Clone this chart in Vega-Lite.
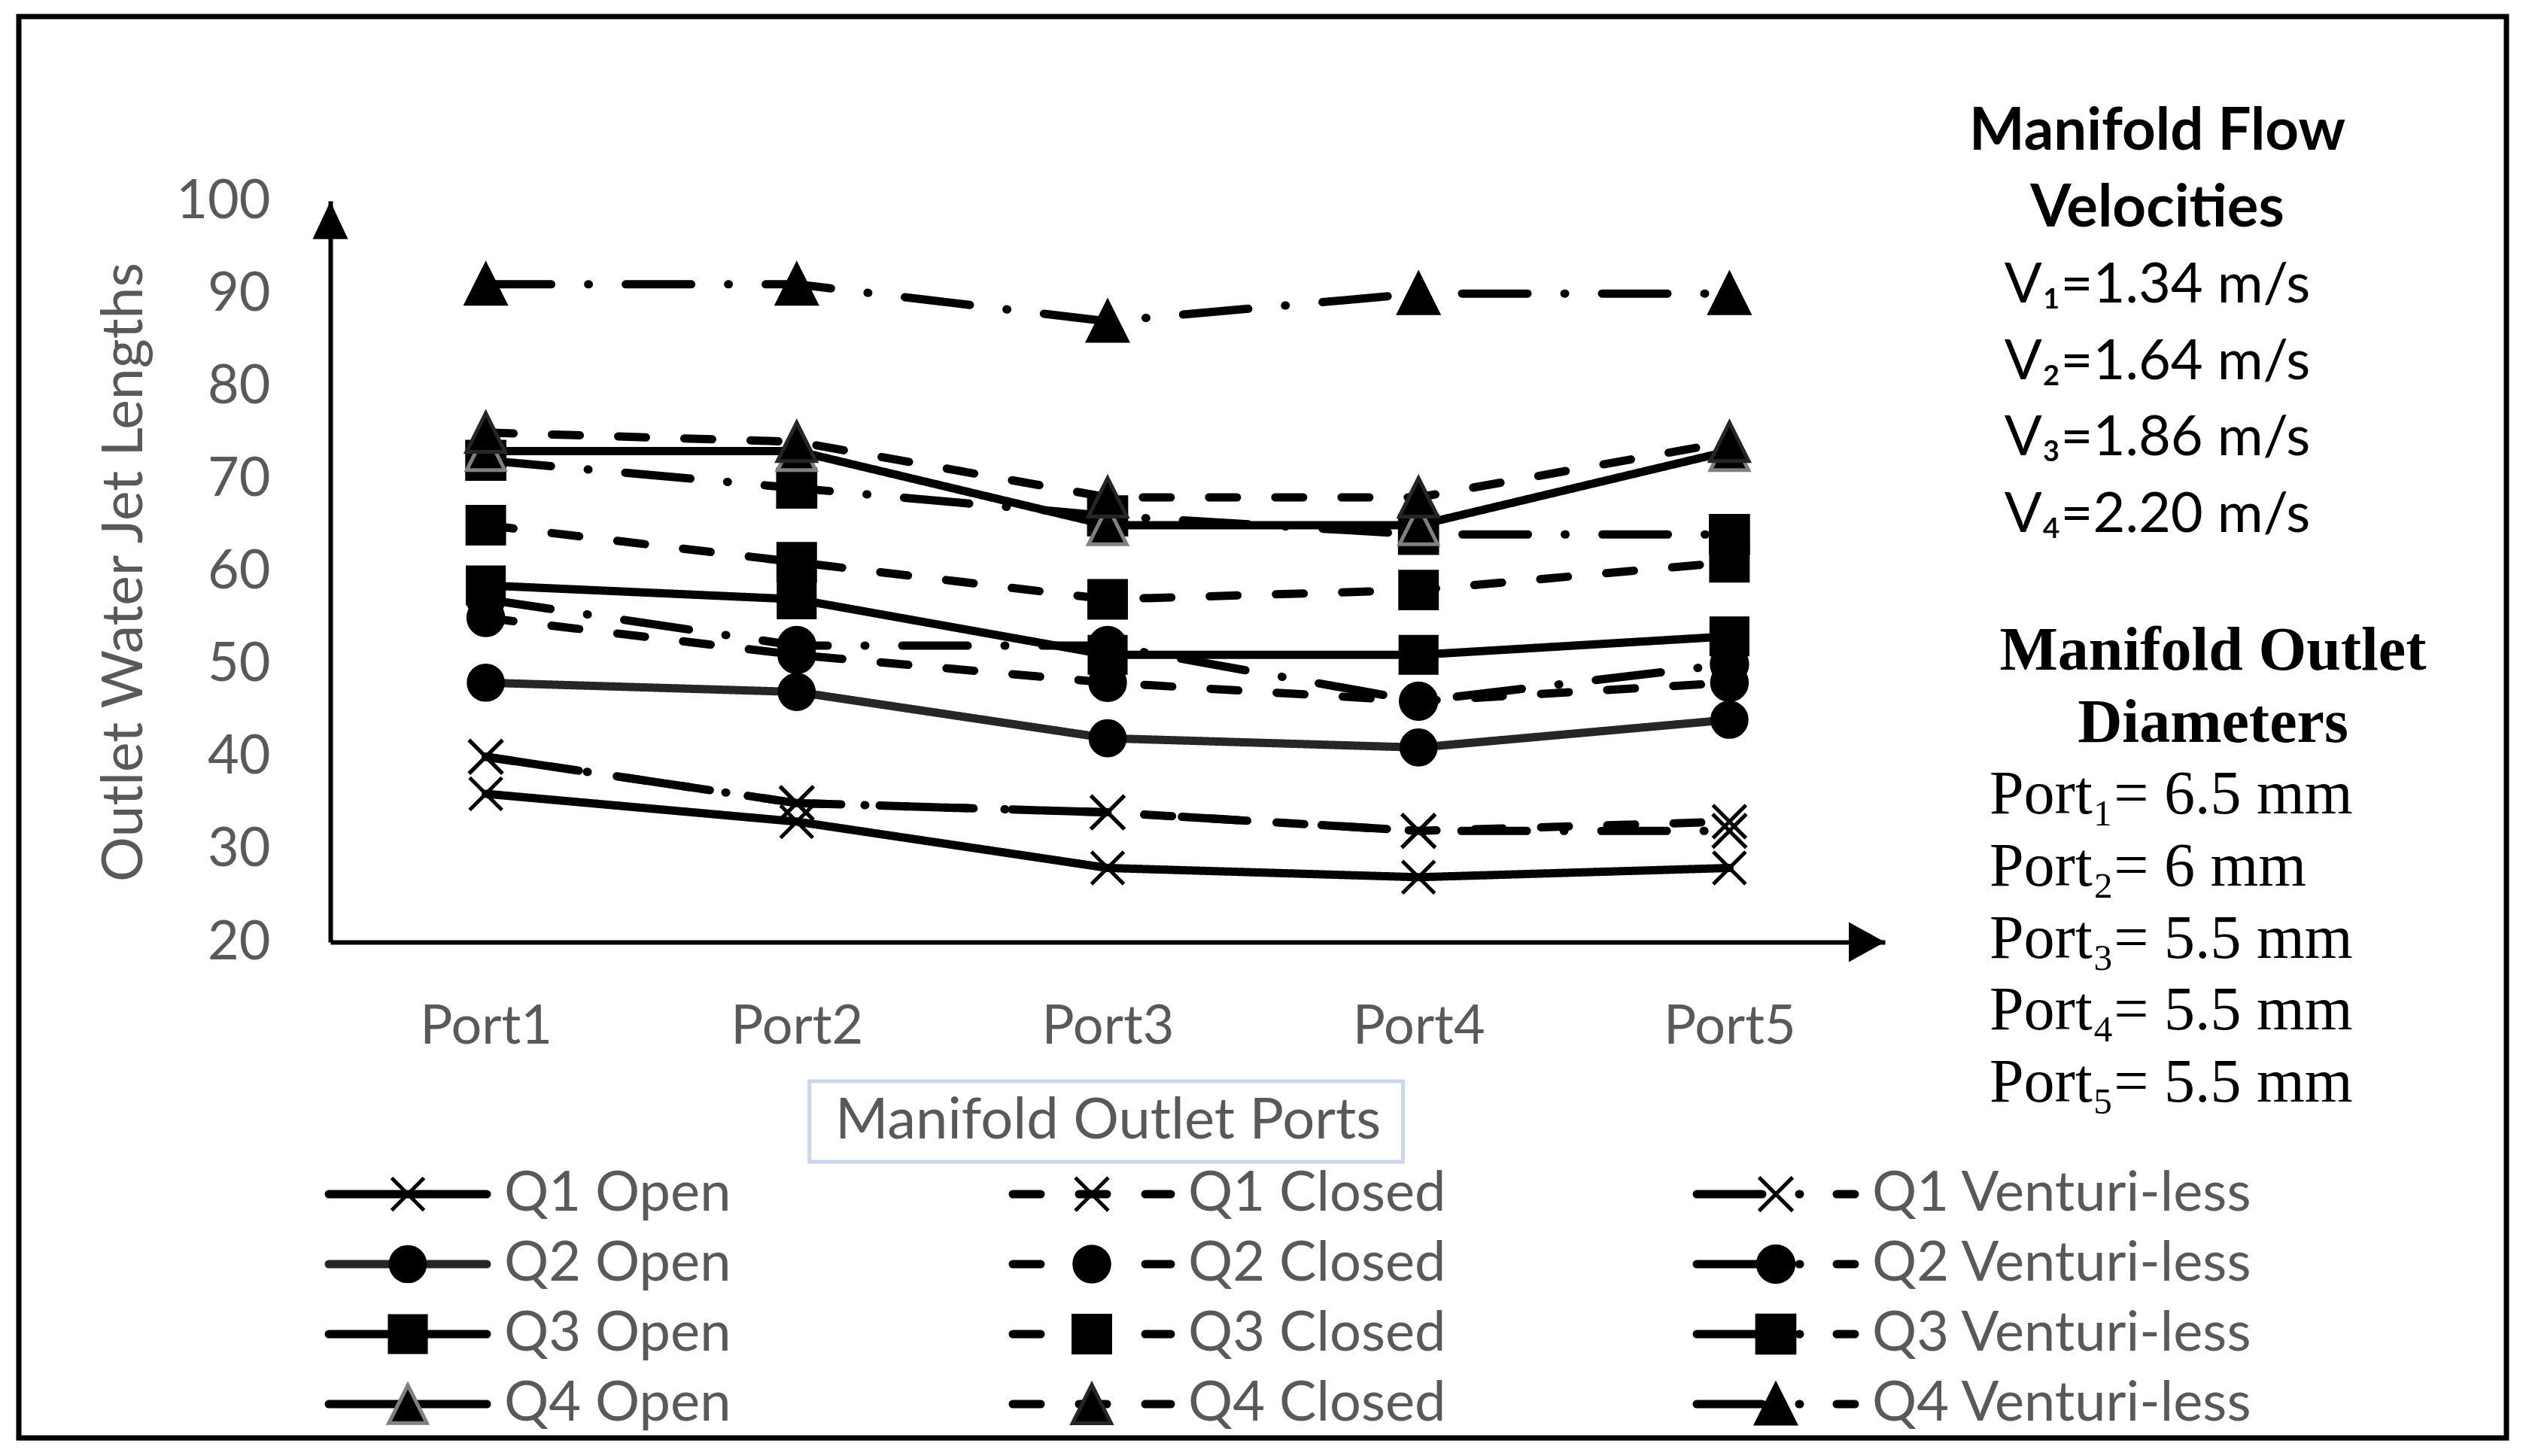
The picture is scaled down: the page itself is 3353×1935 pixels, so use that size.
{
  "$schema": "https://vega.github.io/schema/vega-lite/v6.json",
  "width": 3306,
  "height": 1889,
  "autosize": "none",
  "padding": {"left": 25, "top": 22, "right": 22, "bottom": 24},
  "background": "white",
  "config": {
    "view": {"stroke": "black", "strokeWidth": 7},
    "font": "Lato",
    "axis": {"labelFont": "Lato", "titleFont": "Lato"}
  },
  "datasets": {
    "jets": [
      {"series": "Q1 Open", "port": 1, "value": 36}, {"series": "Q1 Open", "port": 2, "value": 33}, {"series": "Q1 Open", "port": 3, "value": 28}, {"series": "Q1 Open", "port": 4, "value": 27}, {"series": "Q1 Open", "port": 5, "value": 28},
      {"series": "Q1 Closed", "port": 1, "value": 40}, {"series": "Q1 Closed", "port": 2, "value": 35}, {"series": "Q1 Closed", "port": 3, "value": 34}, {"series": "Q1 Closed", "port": 4, "value": 32}, {"series": "Q1 Closed", "port": 5, "value": 33},
      {"series": "Q1 Venturi-less", "port": 1, "value": 40}, {"series": "Q1 Venturi-less", "port": 2, "value": 35}, {"series": "Q1 Venturi-less", "port": 3, "value": 34}, {"series": "Q1 Venturi-less", "port": 4, "value": 32}, {"series": "Q1 Venturi-less", "port": 5, "value": 32},
      {"series": "Q2 Open", "port": 1, "value": 48}, {"series": "Q2 Open", "port": 2, "value": 47}, {"series": "Q2 Open", "port": 3, "value": 42}, {"series": "Q2 Open", "port": 4, "value": 41}, {"series": "Q2 Open", "port": 5, "value": 44},
      {"series": "Q2 Closed", "port": 1, "value": 55}, {"series": "Q2 Closed", "port": 2, "value": 51}, {"series": "Q2 Closed", "port": 3, "value": 48}, {"series": "Q2 Closed", "port": 4, "value": 46}, {"series": "Q2 Closed", "port": 5, "value": 48},
      {"series": "Q2 Venturi-less", "port": 1, "value": 57}, {"series": "Q2 Venturi-less", "port": 2, "value": 52}, {"series": "Q2 Venturi-less", "port": 3, "value": 52}, {"series": "Q2 Venturi-less", "port": 4, "value": 46}, {"series": "Q2 Venturi-less", "port": 5, "value": 50},
      {"series": "Q3 Open", "port": 1, "value": 58.5}, {"series": "Q3 Open", "port": 2, "value": 57}, {"series": "Q3 Open", "port": 3, "value": 51}, {"series": "Q3 Open", "port": 4, "value": 51}, {"series": "Q3 Open", "port": 5, "value": 53},
      {"series": "Q3 Closed", "port": 1, "value": 65}, {"series": "Q3 Closed", "port": 2, "value": 61}, {"series": "Q3 Closed", "port": 3, "value": 57}, {"series": "Q3 Closed", "port": 4, "value": 58}, {"series": "Q3 Closed", "port": 5, "value": 61},
      {"series": "Q3 Venturi-less", "port": 1, "value": 72}, {"series": "Q3 Venturi-less", "port": 2, "value": 69}, {"series": "Q3 Venturi-less", "port": 3, "value": 66}, {"series": "Q3 Venturi-less", "port": 4, "value": 64}, {"series": "Q3 Venturi-less", "port": 5, "value": 64},
      {"series": "Q4 Open", "port": 1, "value": 73}, {"series": "Q4 Open", "port": 2, "value": 73}, {"series": "Q4 Open", "port": 3, "value": 65}, {"series": "Q4 Open", "port": 4, "value": 65}, {"series": "Q4 Open", "port": 5, "value": 73},
      {"series": "Q4 Closed", "port": 1, "value": 75}, {"series": "Q4 Closed", "port": 2, "value": 74}, {"series": "Q4 Closed", "port": 3, "value": 68}, {"series": "Q4 Closed", "port": 4, "value": 68}, {"series": "Q4 Closed", "port": 5, "value": 74},
      {"series": "Q4 Venturi-less", "port": 1, "value": 91}, {"series": "Q4 Venturi-less", "port": 2, "value": 91}, {"series": "Q4 Venturi-less", "port": 3, "value": 87}, {"series": "Q4 Venturi-less", "port": 4, "value": 90}, {"series": "Q4 Venturi-less", "port": 5, "value": 90}
    ],
    "seriesList": [
      {"series": "Q1 Open", "q": "Q1", "cond": "Open"}, {"series": "Q1 Closed", "q": "Q1", "cond": "Closed"}, {"series": "Q1 Venturi-less", "q": "Q1", "cond": "Venturi-less"},
      {"series": "Q2 Open", "q": "Q2", "cond": "Open"}, {"series": "Q2 Closed", "q": "Q2", "cond": "Closed"}, {"series": "Q2 Venturi-less", "q": "Q2", "cond": "Venturi-less"},
      {"series": "Q3 Open", "q": "Q3", "cond": "Open"}, {"series": "Q3 Closed", "q": "Q3", "cond": "Closed"}, {"series": "Q3 Venturi-less", "q": "Q3", "cond": "Venturi-less"},
      {"series": "Q4 Open", "q": "Q4", "cond": "Open"}, {"series": "Q4 Closed", "q": "Q4", "cond": "Closed"}, {"series": "Q4 Venturi-less", "q": "Q4", "cond": "Venturi-less"}
    ],
    "velocities": [
      {"kind": "head", "line": 1, "text": "Manifold Flow"},
      {"kind": "head", "line": 2, "text": "Velocities"},
      {"kind": "body", "line": 3, "text": "V₁=1.34 m/s"},
      {"kind": "body", "line": 4, "text": "V₂=1.64 m/s"},
      {"kind": "body", "line": 5, "text": "V₃=1.86 m/s"},
      {"kind": "body", "line": 6, "text": "V₄=2.20 m/s"}
    ],
    "diameters": [
      {"kind": "head", "line": 1, "text": "Manifold Outlet"},
      {"kind": "head", "line": 2, "text": "Diameters"},
      {"kind": "body", "line": 3, "text": "Port₁= 6.5 mm"},
      {"kind": "body", "line": 4, "text": "Port₂= 6 mm"},
      {"kind": "body", "line": 5, "text": "Port₃= 5.5 mm"},
      {"kind": "body", "line": 6, "text": "Port₄= 5.5 mm"},
      {"kind": "body", "line": 7, "text": "Port₅= 5.5 mm"}
    ]
  },
  "layer": [
    {
      "data": {"name": "jets"},
      "layer": [
        {
          "data": {"values": [{}]},
          "mark": {"type": "rect", "fill": "white", "stroke": "#c9d6ed", "strokeWidth": 5, "opacity": 1},
          "encoding": {
            "x": {"datum": 2.041, "type": "quantitative"},
            "x2": {"datum": 3.95},
            "y": {"datum": 4.97, "type": "quantitative"},
            "y2": {"datum": -3.72}
          }
        },
        {
          "mark": {"type": "line", "strokeWidth": 11, "strokeCap": "round", "strokeJoin": "round"},
          "encoding": {
            "x": {
              "field": "port", "type": "quantitative",
              "scale": {"domain": [0.5, 5.5], "range": [414, 2480], "nice": false, "zero": false},
              "axis": {
                "orient": "bottom", "offset": -659, "values": [1, 2, 3, 4, 5],
                "labelExpr": "'Port' + datum.value",
                "ticks": false, "tickSize": 0, "grid": false,
                "domainColor": "black", "domainWidth": 6,
                "labelFontSize": 72, "labelColor": "#595959", "labelPadding": 134,
                "labelBaseline": "alphabetic", "labelFlush": false, "labelOverlap": false,
                "title": "Manifold Outlet Ports", "titleFontSize": 76, "titleColor": "#595959",
                "titleFontWeight": "normal", "titleX": 1447, "titleY": 260,
                "titleBaseline": "alphabetic", "titleAlign": "center", "zindex": 1
              }
            },
            "y": {
              "field": "value", "type": "quantitative",
              "scale": {"domain": [20, 100], "range": [1230, 245], "nice": false, "zero": false},
              "axis": {
                "orient": "left", "offset": -414, "values": [20, 30, 40, 50, 60, 70, 80, 90, 100],
                "ticks": false, "tickSize": 0, "grid": false,
                "domainColor": "black", "domainWidth": 6,
                "labelFontSize": 72, "labelColor": "#595959", "labelPadding": 80,
                "labelFlush": false, "labelOverlap": false,
                "title": "Outlet Water Jet Lengths", "titleFontSize": 75, "titleColor": "#595959",
                "titleFontWeight": "normal", "titleX": -251, "titleY": 738, "titleAngle": -90,
                "titleBaseline": "alphabetic", "titleAlign": "center"
              }
            },
            "color": {
              "field": "series", "type": "nominal", "legend": null,
              "scale": {
                "domain": ["Q1 Open", "Q1 Closed", "Q1 Venturi-less", "Q2 Open", "Q2 Closed", "Q2 Venturi-less", "Q3 Open", "Q3 Closed", "Q3 Venturi-less", "Q4 Open", "Q4 Closed", "Q4 Venturi-less"],
                "range": ["black", "black", "black", "#262626", "black", "black", "black", "black", "black", "black", "black", "black"]
              }
            },
            "strokeDash": {
              "field": "series", "type": "nominal", "legend": null,
              "scale": {
                "domain": ["Q1 Open", "Q1 Closed", "Q1 Venturi-less", "Q2 Open", "Q2 Closed", "Q2 Venturi-less", "Q3 Open", "Q3 Closed", "Q3 Venturi-less", "Q4 Open", "Q4 Closed", "Q4 Venturi-less"],
                "range": [[1, 0], [37, 51], [87, 49, 1, 49], [1, 0], [37, 51], [87, 49, 1, 49], [1, 0], [37, 51], [87, 49, 1, 49], [1, 0], [37, 51], [87, 49, 1, 49]]
              }
            }
          }
        },
        {
          "mark": {"type": "point", "filled": true, "fill": "black", "strokeWidth": 5, "opacity": 1},
          "encoding": {
            "x": {"field": "port", "type": "quantitative"},
            "y": {"field": "value", "type": "quantitative"},
            "shape": {
              "field": "series", "type": "nominal", "legend": null,
              "scale": {
                "domain": ["Q1 Open", "Q1 Closed", "Q1 Venturi-less", "Q2 Open", "Q2 Closed", "Q2 Venturi-less", "Q3 Open", "Q3 Closed", "Q3 Venturi-less", "Q4 Open", "Q4 Closed", "Q4 Venturi-less"],
                "range": ["M-1,-1L1,1M1,-1L-1,1", "M-1,-1L1,1M1,-1L-1,1", "M-1,-1L1,1M1,-1L-1,1", "circle", "circle", "circle", "square", "square", "square", "M0,-1L1,1L-1,1Z", "M0,-1L1,1L-1,1Z", "M0,-1L1,1L-1,1Z"]
              }
            },
            "size": {
              "field": "series", "type": "nominal", "legend": null,
              "scale": {
                "domain": ["Q1 Open", "Q1 Closed", "Q1 Venturi-less", "Q2 Open", "Q2 Closed", "Q2 Venturi-less", "Q3 Open", "Q3 Closed", "Q3 Venturi-less", "Q4 Open", "Q4 Closed", "Q4 Venturi-less"],
                "range": [1849, 2704, 1849, 1764, 1764, 1764, 1681, 1681, 1681, 1764, 1764, 1764]
              }
            },
            "stroke": {
              "field": "series", "type": "nominal", "legend": null,
              "scale": {
                "domain": ["Q1 Open", "Q1 Closed", "Q1 Venturi-less", "Q2 Open", "Q2 Closed", "Q2 Venturi-less", "Q3 Open", "Q3 Closed", "Q3 Venturi-less", "Q4 Open", "Q4 Closed", "Q4 Venturi-less"],
                "range": ["black", "black", "black", "black", "black", "black", "black", "black", "black", "#808080", "#262626", "black"]
              }
            }
          }
        },
        {
          "data": {"values": [{}]},
          "mark": {"type": "point", "shape": "M0,-1L0.94,1L-0.94,1Z", "size": 2500, "filled": true, "fill": "black", "strokeWidth": 0, "opacity": 1},
          "encoding": {
            "x": {"datum": 0.5, "type": "quantitative"},
            "y": {"datum": 97.9, "type": "quantitative"}
          }
        },
        {
          "data": {"values": [{}]},
          "mark": {"type": "point", "shape": "M1,0L-1,-1.1L-1,1.1Z", "size": 2304, "filled": true, "fill": "black", "strokeWidth": 0, "opacity": 1},
          "encoding": {
            "x": {"datum": 5.442, "type": "quantitative"},
            "y": {"datum": 20, "type": "quantitative"}
          }
        }
      ]
    },
    {
      "data": {"name": "seriesList"},
      "encoding": {
        "x": {"field": "cond", "type": "nominal", "axis": null,
              "scale": {"type": "point", "domain": ["Open", "Closed", "Venturi-less"], "range": [517, 2335], "padding": 0}},
        "y": {"field": "q", "type": "nominal", "axis": null,
              "scale": {"type": "point", "domain": ["Q1", "Q2", "Q3", "Q4"], "range": [1565, 1844], "padding": 0}}
      },
      "layer": [
        {
          "mark": {"type": "rule", "strokeWidth": 11, "strokeCap": "round", "xOffset": -105, "x2Offset": 105},
          "encoding": {
            "x2": {"field": "cond"},
            "color": {"field": "series", "type": "nominal", "legend": null},
            "strokeDash": {"field": "series", "type": "nominal", "legend": null}
          }
        },
        {
          "mark": {"type": "point", "filled": true, "fill": "black", "strokeWidth": 5, "opacity": 1},
          "encoding": {
            "shape": {"field": "series", "type": "nominal", "legend": null},
            "size": {"field": "series", "type": "nominal", "legend": null},
            "stroke": {"field": "series", "type": "nominal", "legend": null}
          }
        },
        {
          "mark": {"type": "text", "align": "left", "baseline": "middle", "xOffset": 128, "font": "Lato", "fontSize": 74, "color": "#595959"},
          "encoding": {
            "text": {"field": "series", "type": "nominal"}
          }
        }
      ]
    },
    {
      "data": {"name": "velocities"},
      "encoding": {
        "x": {"field": "kind", "type": "nominal", "axis": null,
              "scale": {"type": "point", "domain": ["head", "body"], "range": [2842, 2842], "padding": 0}},
        "y": {"field": "line", "type": "quantitative", "axis": null,
              "scale": {"domain": [1, 6], "range": [177, 685], "nice": false, "zero": false}},
        "text": {"field": "text", "type": "nominal"}
      },
      "layer": [
        {
          "transform": [{"filter": {"field": "kind", "equal": "head"}}],
          "mark": {"type": "text", "font": "Lato", "fontWeight": "bold", "fontSize": 78, "align": "center", "baseline": "alphabetic", "color": "black"}
        },
        {
          "transform": [{"filter": {"field": "kind", "equal": "body"}}],
          "mark": {"type": "text", "font": "Lato", "fontSize": 74, "align": "center", "baseline": "alphabetic", "color": "black"}
        }
      ]
    },
    {
      "data": {"name": "diameters"},
      "encoding": {
        "x": {"field": "kind", "type": "nominal", "axis": null,
              "scale": {"type": "point", "domain": ["head", "body"], "range": [2916, 2619], "padding": 0}},
        "y": {"field": "line", "type": "quantitative", "axis": null,
              "scale": {"domain": [1, 7], "range": [868, 1442], "nice": false, "zero": false}},
        "text": {"field": "text", "type": "nominal"}
      },
      "layer": [
        {
          "transform": [{"filter": {"field": "kind", "equal": "head"}}],
          "mark": {"type": "text", "font": "Liberation Serif", "fontWeight": "bold", "fontSize": 82, "align": "center", "baseline": "alphabetic", "color": "black"}
        },
        {
          "transform": [{"filter": {"field": "kind", "equal": "body"}}],
          "mark": {"type": "text", "font": "Liberation Serif", "fontSize": 82, "align": "left", "baseline": "alphabetic", "color": "black"}
        }
      ]
    }
  ],
  "resolve": {"scale": {"x": "independent", "y": "independent"}}
}
